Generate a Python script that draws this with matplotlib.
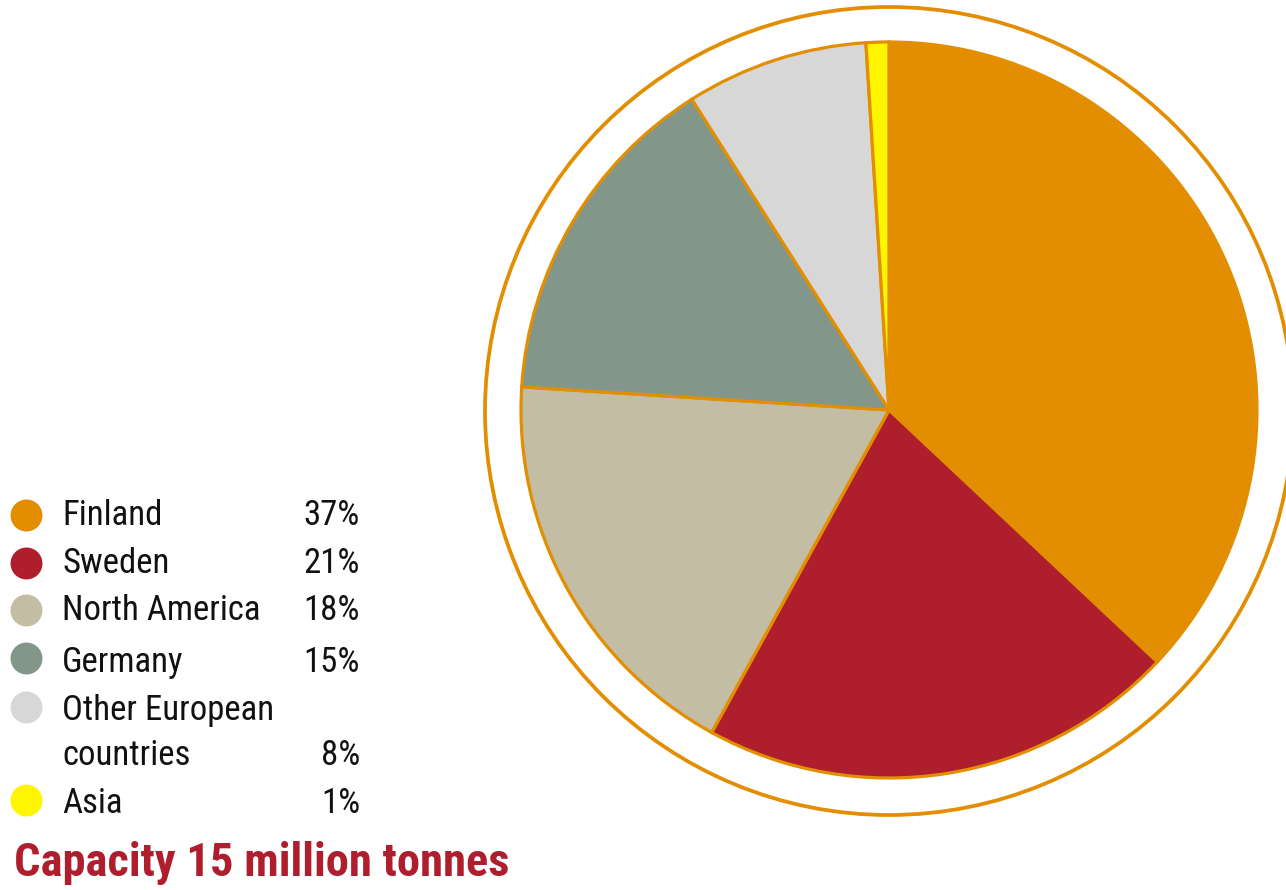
import matplotlib
matplotlib.use("Agg")
import matplotlib.pyplot as plt
import matplotlib.patches as patches

# data
regions = ["Finland", "Sweden", "North America", "Germany", "Other European\ncountries", "Asia"]
shares = [37, 21, 18, 15, 8, 1]
colours = ["#E38E00", "#AE1E2D", "#C2BDA3", "#82978A", "#D7D7D7", "#FFF500"]
title = "Capacity 15 million tonnes"

W, H = 1286, 890
FONT = ["Roboto Condensed", "Liberation Sans", "DejaVu Sans"]
EDGE = "#E38E00"


def fy(y):
    # pixel row (from top) -> data y
    return H - y


fig = plt.figure(figsize=(W / 100, H / 100), dpi=100)
ax = fig.add_axes([0, 0, 1, 1])

# pie
cx, cy, r = 889, 410, 368
ax.pie(shares, colors=colours, startangle=90, counterclock=False,
       center=(cx, fy(cy)), radius=r, frame=True,
       wedgeprops=dict(edgecolor=EDGE, linewidth=2.3, joinstyle="miter"))
ax.set_xlim(0, W)
ax.set_ylim(0, H)
ax.set_aspect("equal")
ax.axis("off")

# outer ring
ring = patches.Circle((cx, fy(411)), 404, fill=False, edgecolor=EDGE, linewidth=2.7)
ax.add_patch(ring)

# legend, drawn by hand
dot_y = [515, 563, 610, 658, 707, 800]
base_y = [525, 573, 620, 672, 765, 813]
for i, (name, val, col) in enumerate(zip(regions, shares, colours)):
    ax.plot(26, fy(dot_y[i]), "o", ms=23, color=col, mec="none")
    parts = name.split("\n")
    for j, line in enumerate(reversed(parts)):
        ax.text(62, fy(base_y[i] - 45 * j), line, fontsize=25, family=FONT,
                va="baseline", ha="left", color="#111111")
    ax.text(360, fy(base_y[i]), "%d%%" % val, fontsize=25, family=FONT,
            va="baseline", ha="right", color="#111111")

ax.text(14, fy(876), title, fontsize=33.5, family=FONT, fontweight="bold",
        color="#AE1E2D", va="baseline", ha="left")

fig.savefig("out.png", dpi=100)
